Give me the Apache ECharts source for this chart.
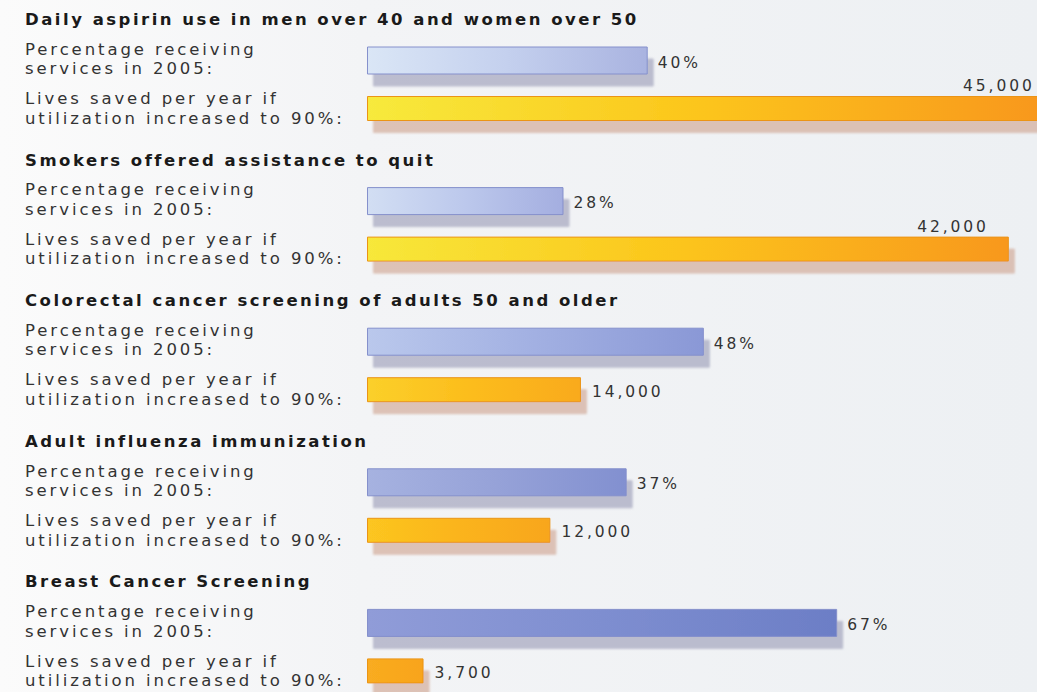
<!DOCTYPE html>
<html>
<head>
<meta charset="utf-8">
<script src="https://cdn.jsdelivr.net/npm/echarts@6/dist/echarts.min.js"></script>
<style>
html,body{margin:0;padding:0;}
#c{width:1037px;height:692px;}
#c svg text{letter-spacing:2.9px;}
#c svg text[style*="bold"]{letter-spacing:2.5px;}
</style>
</head>
<body>
<div id="c"></div>
<script>
// ---- data ----
var groupTitles = [
  'Daily aspirin use in men over 40 and women over 50',
  'Smokers offered assistance to quit',
  'Colorectal cancer screening of adults 50 and older',
  'Adult influenza immunization',
  'Breast Cancer Screening'
];
var rowLabels = ['Percentage receiving\nservices in 2005:', 'Lives saved per year if\nutilization increased to 90%:'];
var pctReceiving = [40, 28, 48, 37, 67];
var livesSaved = [45000, 42000, 14000, 12000, 3700];

// ---- styles ----
var blueStops = [
  ['#dae6f6', '#c4d0ee', '#a9b3e0'],
  ['#d2def3', '#bcc8ec', '#a4aee0'],
  ['#bac8ec', '#a2b0e2', '#8a98d6'],
  ['#a6b2e0', '#96a2d8', '#8290d0'],
  ['#909cd8', '#7e8ed0', '#6c7ec6']
];
var orangeStops = [
  ['#f7ea3c', '#fcc41a', '#f8961e'],
  ['#f7e83a', '#fcc41a', '#f8981e'],
  ['#fbd02a', '#fcbc1c', '#f9aa1e'],
  ['#fcc620', '#fbb41c', '#f8a61c'],
  ['#f9ac20', '#f9a81e', '#f8a41c']
];
function grad(s) {
  return new echarts.graphic.LinearGradient(0, 0, 1, 0, [
    {offset: 0, color: s[0]}, {offset: 0.5, color: s[1]}, {offset: 1, color: s[2]}
  ]);
}
var GROUP_STEP = 140.6;
var FONT = '"DejaVu Sans", Verdana, sans-serif';

var grids = [], xAxes = [], yAxes = [], series = [], titles = [];
groupTitles.forEach(function (t, i) {
  titles.push({
    text: t, left: 25, top: 11 + GROUP_STEP * i, padding: 0,
    textStyle: {fontFamily: FONT, fontWeight: 'bold', fontSize: 16.5, color: '#1a1a1a'}
  });
  grids.push({left: 367, width: 800, top: 34.25 + GROUP_STEP * i, height: 99, outerBoundsMode: 'none', containLabel: false});
  xAxes.push({gridIndex: i, type: 'value', min: 0, max: 114, show: false});
  xAxes.push({gridIndex: i, type: 'value', min: 0, max: 52350, show: false});
  yAxes.push({
    gridIndex: i, type: 'category', data: rowLabels, inverse: true,
    axisLine: {show: false}, axisTick: {show: false}, splitLine: {show: false},
    axisLabel: {
      align: 'left', margin: 342, fontFamily: FONT, fontSize: 16.5, lineHeight: 19.5, color: '#333'
    }
  });
  var big = livesSaved[i] > 30000;
  series.push({
    type: 'bar', xAxisIndex: 2 * i, yAxisIndex: i, barWidth: 28, barGap: '-100%',
    data: [{
      value: pctReceiving[i],
      itemStyle: {color: grad(blueStops[i]), borderColor: '#8590cc', borderWidth: 1,
        shadowColor: 'rgba(150,152,180,0.6)', shadowBlur: 2, shadowOffsetX: 6, shadowOffsetY: 12}
    }, '-'],
    label: {show: true, position: 'right', distance: 10, offset: [0, 2], formatter: '{c}%',
      fontFamily: FONT, fontSize: 15.5, color: '#333'}
  });
  series.push({
    type: 'bar', xAxisIndex: 2 * i + 1, yAxisIndex: i, barWidth: 25, barGap: '-100%',
    data: ['-', {
      value: livesSaved[i],
      itemStyle: {color: grad(orangeStops[i]), borderColor: '#eb9418', borderWidth: 1,
        shadowColor: 'rgba(205,160,140,0.6)', shadowBlur: 2, shadowOffsetX: 6, shadowOffsetY: 12},
      label: big ? {position: ['100%', 0], align: 'right', verticalAlign: 'bottom', offset: [-20, -2]} : {}
    }],
    label: {show: true, position: 'right', distance: 11, offset: [0, 2],
      formatter: function (p) { return p.value.toLocaleString('en-US'); },
      fontFamily: FONT, fontSize: 15.5, color: '#333'}
  });
});

var chart = echarts.init(document.getElementById('c'), null, {renderer: 'svg'});
chart.setOption({
  animation: false,
  backgroundColor: new echarts.graphic.LinearGradient(0, 0, 1, 0, [
    {offset: 0, color: '#fbfbfb'}, {offset: 0.35, color: '#f3f4f6'}, {offset: 1, color: '#edf0f3'}
  ]),
  title: titles,
  grid: grids,
  xAxis: xAxes,
  yAxis: yAxes,
  series: series
});
</script>
</body>
</html>
